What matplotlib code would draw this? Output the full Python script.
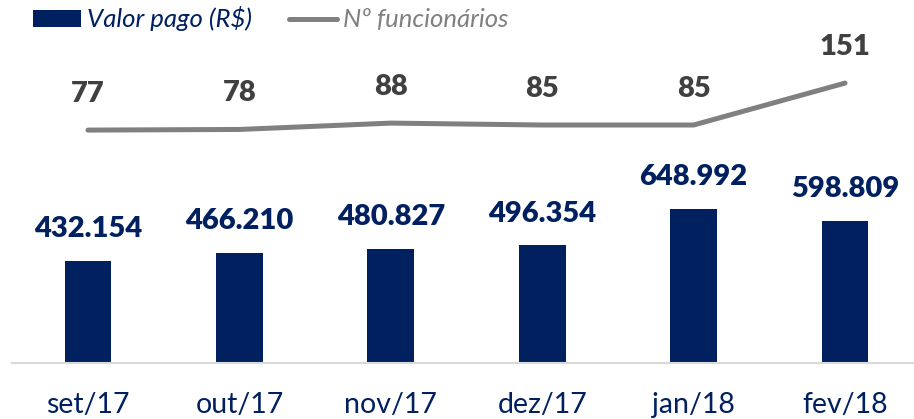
import matplotlib.pyplot as plt

# ---------- data ----------
meses = ['set/17', 'out/17', 'nov/17', 'dez/17', 'jan/18', 'fev/18']
valor_pago = [432154, 466210, 480827, 496354, 648992, 598809]
funcionarios = [77, 78, 88, 85, 85, 151]

NAVY = '#002060'
GRAY = '#808080'
DARK = '#404040'

plt.rcParams['font.family'] = ['Lato', 'DejaVu Sans']

fig = plt.figure(figsize=(9.14, 4.19), dpi=100)
ax = fig.add_axes([0.01346, 0.1337, 0.9939, 0.7709])
ax2 = ax.twinx()

x = list(range(len(meses)))

# ---------- bars ----------
ax.bar(x, valor_pago, width=0.31, color=NAVY, label='Valor pago (R$)', zorder=2)
ax.set_ylim(0, 1364675)
ax.set_xlim(-0.5, 5.5)
for xi, v in zip(x, valor_pago):
    lbl = f'{v:,}'.replace(',', '.')
    ax.annotate(lbl, (xi, v), xytext=(0, 23), textcoords='offset points',
                ha='center', va='center', fontsize=21, fontweight='heavy', color=NAVY)

# ---------- line ----------
ax2.plot(x, funcionarios, color=GRAY, lw=3.6, solid_capstyle='round',
         solid_joinstyle='round', label='Nº funcionários')
ax2.set_ylim(-289.7, 218.9)
for xi, v in zip(x, funcionarios):
    ax2.annotate(str(v), (xi, v), xytext=(0, 26), textcoords='offset points',
                 ha='center', va='center', fontsize=21, fontweight='heavy', color=DARK)

# ---------- axes styling ----------
for a in (ax, ax2):
    for s in ('top', 'right', 'left'):
        a.spines[s].set_visible(False)
    a.set_yticks([])
ax2.spines['bottom'].set_visible(False)
ax.spines['bottom'].set_color('#d9d9d9')
ax.spines['bottom'].set_linewidth(1.5)
ax.set_xticks(x)
ax.set_xticklabels(meses, fontsize=20.5, color=NAVY)
ax.tick_params(axis='x', length=0, pad=21)

# ---------- legend ----------
h1, l1 = ax.get_legend_handles_labels()
h2, l2 = ax2.get_legend_handles_labels()
leg = fig.legend(h1 + h2, l1 + l2, loc='upper left', bbox_to_anchor=(33 / 914, 0.985),
                 ncol=2, frameon=False, handlelength=1.87, handleheight=0.62,
                 handletextpad=0.23, columnspacing=1.44, borderpad=0, borderaxespad=0,
                 prop={'style': 'italic', 'size': 18.5})
for t, c in zip(leg.get_texts(), [NAVY, GRAY]):
    t.set_color(c)

fig.savefig('out.png', dpi=100)
